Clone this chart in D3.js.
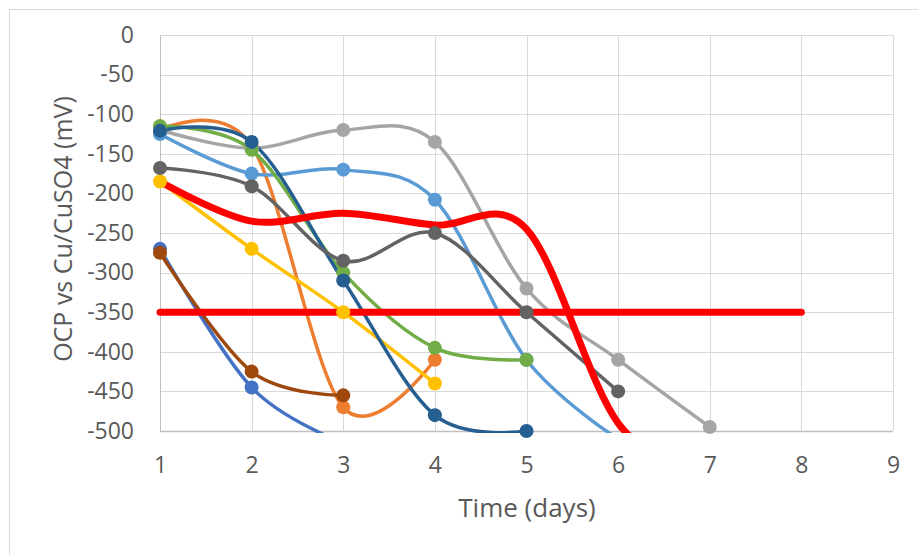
<!DOCTYPE html>
<html>
<head>
<meta charset="utf-8">
<script src="https://cdn.jsdelivr.net/npm/d3@7"></script>
<style>
  html, body { margin: 0; padding: 0; background: #fff; }
  svg { display: block; }
  text { font-family: "Open Sans", "Liberation Sans", sans-serif; fill: #595959; }
</style>
</head>
<body>
<svg id="chart" width="918" height="555"></svg>
<script>
// ---- Data ----
const days = [1, 2, 3, 4, 5, 6, 7, 8];
const xTicks = [1, 2, 3, 4, 5, 6, 7, 8, 9];
const yTicks = [0, -50, -100, -150, -200, -250, -300, -350, -400, -450, -500];

const blue      = [-270, -445, -515];
const orange    = [-120, -140, -470, -410];
const gray      = [-120, -143, -120, -135, -320, -410, -495];
const gold      = [-185, -270, -350, -440];
const lightBlue = [-125, -175, -170, -208, -410, -510];
const green     = [-115, -145, -300, -395, -410];
const darkBlue  = [-121, -135, -310, -480, -500];
const brown     = [-275, -425, -455];
const darkGray  = [-168, -191, -285, -250, -350, -450];
const redCurve  = [-185, -235, -225, -240, -245, -490, -560];
const threshold = [-350, -350, -350, -350, -350, -350, -350, -350];

const seriesList = [
  { name: "S1",  values: blue,      color: "#4472C4", width: 3.5, markers: true },
  { name: "S2",  values: orange,    color: "#ED7D31", width: 3.5, markers: true },
  { name: "S3",  values: gray,      color: "#A5A5A5", width: 3.5, markers: true },
  { name: "S4",  values: gold,      color: "#FFC000", width: 3.5, markers: true },
  { name: "S5",  values: lightBlue, color: "#5B9BD5", width: 3.5, markers: true },
  { name: "S6",  values: green,     color: "#70AD47", width: 3.5, markers: true },
  { name: "S7",  values: darkBlue,  color: "#255E91", width: 3.5, markers: true },
  { name: "S8",  values: brown,     color: "#9E480E", width: 3.5, markers: true },
  { name: "S9",  values: darkGray,  color: "#636363", width: 3.5, markers: true },
  { name: "Avg", values: redCurve,  color: "#FF0000", width: 7,   markers: false },
  { name: "Lim", values: threshold, color: "#FF0000", width: 7,   markers: false, straight: true }
];

// ---- Layout ----
const svg = d3.select("#chart");
const W = 918, H = 555;
const plot = { left: 160, right: 893, top: 35, bottom: 431 };

const x = d3.scaleLinear().domain([1, 9]).range([plot.left, plot.right]);
const y = d3.scaleLinear().domain([-500, 0]).range([plot.bottom, plot.top]);

// outer chart border
svg.append("rect")
  .attr("x", 9.5).attr("y", 9.5)
  .attr("width", W).attr("height", H)
  .attr("fill", "#fff").attr("stroke", "#D9D9D9").attr("stroke-width", 1);

// gridlines
const grid = svg.append("g");
grid.selectAll("line.h").data(yTicks).join("line")
  .attr("x1", plot.left).attr("x2", plot.right)
  .attr("y1", d => Math.round(y(d)) + 0.5).attr("y2", d => Math.round(y(d)) + 0.5)
  .attr("stroke", d => d === -500 ? "#BFBFBF" : "#D9D9D9").attr("stroke-width", d => d === -500 ? 1.5 : 1);
grid.selectAll("line.v").data(xTicks).join("line")
  .attr("y1", plot.top).attr("y2", plot.bottom)
  .attr("x1", d => Math.round(x(d)) + 0.5).attr("x2", d => Math.round(x(d)) + 0.5)
  .attr("stroke", d => d === 1 ? "#BFBFBF" : "#D9D9D9").attr("stroke-width", 1);

// axes (labels only, via d3 axis generators)
const fmt = d => String(d);
const yAxis = d3.axisLeft(y).tickValues(yTicks).tickSize(0).tickPadding(26).tickFormat(fmt);
const gy = svg.append("g").attr("transform", `translate(${plot.left},0)`).call(yAxis);
gy.select(".domain").remove();
gy.selectAll("text").attr("font-size", 23).attr("fill", "#595959")
  .style("font-family", '"Open Sans", "Liberation Sans", sans-serif');

const xAxis = d3.axisBottom(x).tickValues(xTicks).tickSize(0).tickPadding(26).tickFormat(fmt);
const gx = svg.append("g").attr("transform", `translate(0,${plot.bottom})`).call(xAxis);
gx.select(".domain").remove();
gx.selectAll("text").attr("font-size", 23).attr("fill", "#595959")
  .style("font-family", '"Open Sans", "Liberation Sans", sans-serif');

// axis titles
svg.append("text")
  .attr("x", 527).attr("y", 517)
  .attr("text-anchor", "middle").attr("font-size", 26)
  .text("Time (days)");
svg.append("text")
  .attr("transform", `translate(72,229) rotate(-90)`)
  .attr("text-anchor", "middle").attr("font-size", 25)
  .text("OCP vs Cu/CuSO4 (mV)");

// clip for lines
svg.append("clipPath").attr("id", "plotClip")
  .append("rect")
  .attr("x", plot.left - 10).attr("y", plot.top - 10)
  .attr("width", plot.right - plot.left + 20)
  .attr("height", plot.bottom - plot.top + 12);

const toPts = vals => vals.map((v, i) => ({ d: days[i], v })).filter(p => p.v != null);

const smooth = d3.line().x(p => x(p.d)).y(p => y(p.v)).curve(d3.curveCardinal.tension(0));
const straight = d3.line().x(p => x(p.d)).y(p => y(p.v));

const lines = svg.append("g").attr("clip-path", "url(#plotClip)");
seriesList.forEach(s => {
  lines.append("path")
    .datum(toPts(s.values))
    .attr("d", s.straight ? straight : smooth)
    .attr("fill", "none")
    .attr("stroke", s.color)
    .attr("stroke-width", s.width)
    .attr("stroke-linecap", "round")
    .attr("stroke-linejoin", "round");
});

// markers drawn after all lines (as in the source chart)
const markers = svg.append("g");
seriesList.filter(s => s.markers).forEach(s => {
  markers.selectAll(null)
    .data(toPts(s.values).filter(p => p.v >= -500))
    .join("circle")
    .attr("cx", p => x(p.d)).attr("cy", p => y(p.v))
    .attr("r", 7)
    .attr("fill", s.color);
});
</script>
</body>
</html>
